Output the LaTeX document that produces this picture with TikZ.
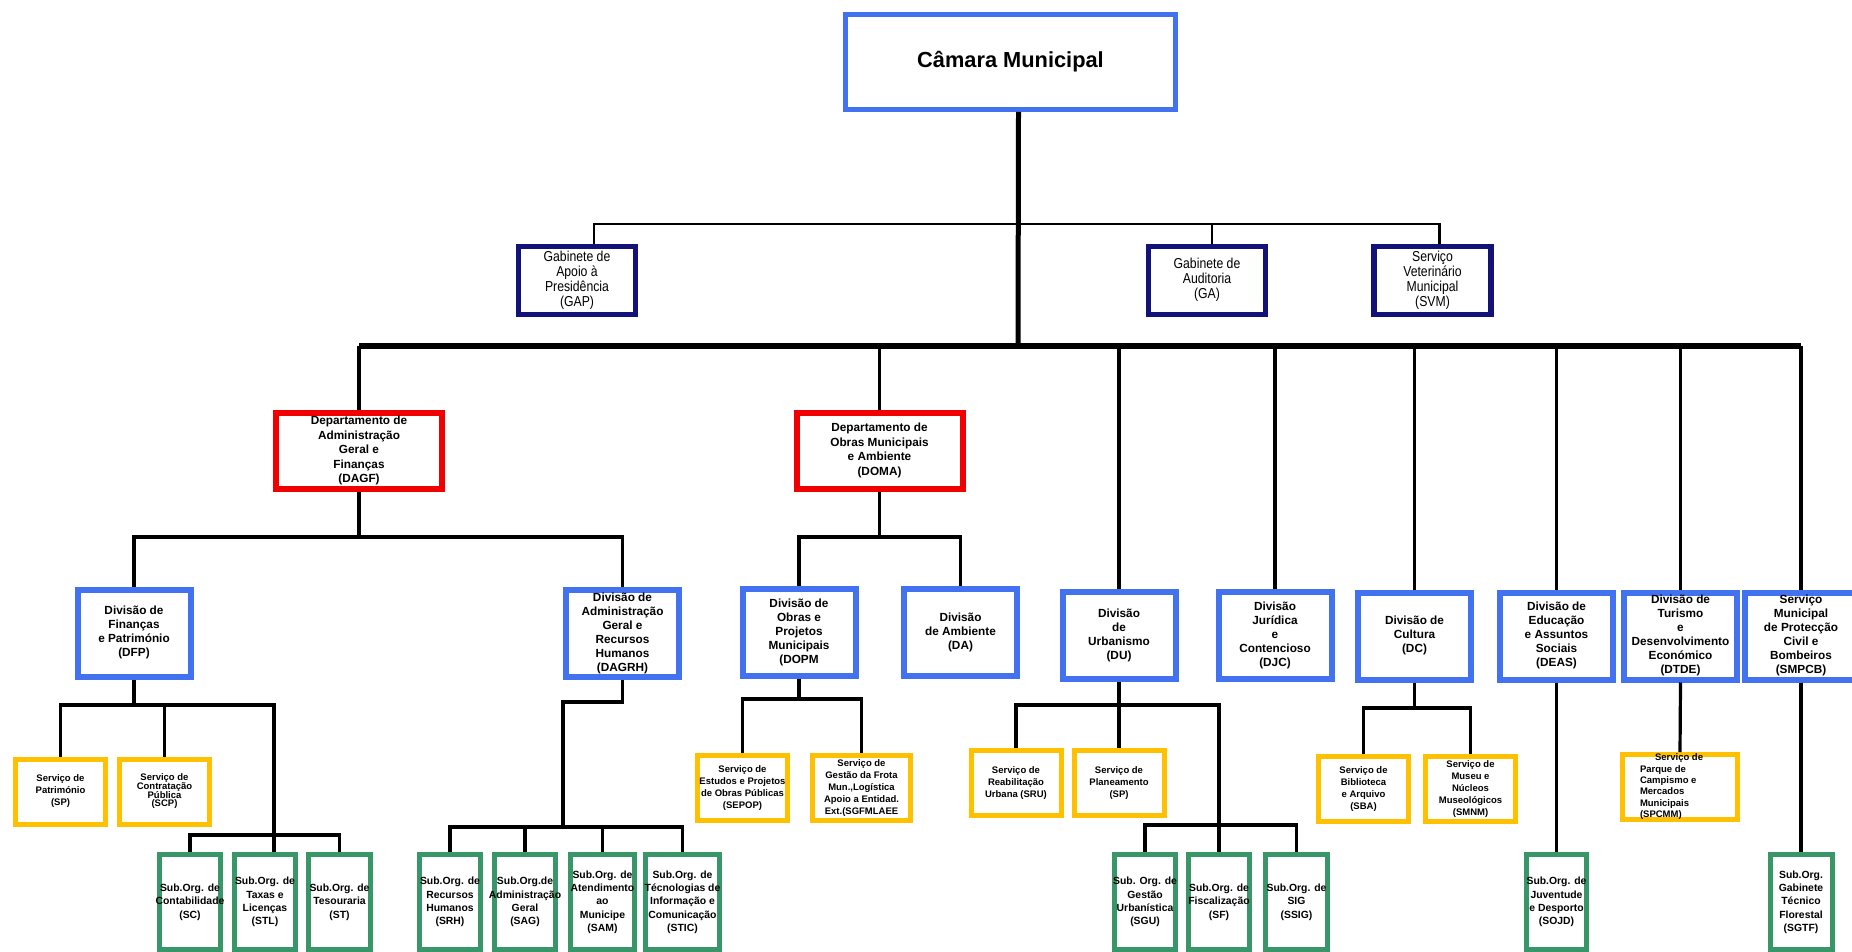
\documentclass[tikz,border=0pt]{standalone}
\usepackage{fontspec}
\setmainfont{Liberation Sans}
\newfontfamily\narrowsans[FakeStretch=0.85]{Liberation Sans}
\newcommand{\boxlines}[1]{\makebox[0pt]{\smash{\raisebox{-0.25em}{\begin{tabular}{@{}c@{}}#1\end{tabular}}}}}
\definecolor{cmblue}{RGB}{66,114,240}
\definecolor{navybx}{RGB}{18,18,120}
\definecolor{redbx}{RGB}{240,0,0}
\definecolor{yelbx}{RGB}{255,192,0}
\definecolor{grnbx}{RGB}{56,150,104}
\begin{document}
\begin{tikzpicture}[x=0.5pt,y=-0.5pt,
  cmbox/.style={draw=cmblue,line width=2.5pt,inner sep=0pt,minimum width=165pt,minimum height=47.5pt,font=\bfseries\fontsize{10.9}{13}\selectfont},
  navbox/.style={draw=navybx,line width=2.75pt,inner sep=0pt,minimum width=58.5pt,minimum height=34pt,font=\narrowsans\fontsize{7.2}{7.5}\selectfont},
  redbox/.style={draw=redbx,line width=3pt,inner sep=0pt,minimum width=83pt,minimum height=38pt,font=\bfseries\fontsize{5.9}{7.25}\selectfont},
  bluebox/.style={draw=cmblue,line width=3pt,inner sep=0pt,minimum width=56.5pt,minimum height=43.5pt,font=\bfseries\fontsize{5.9}{7}\selectfont},
  yelbox/.style={draw=yelbx,line width=2.5pt,inner sep=0pt,minimum width=45pt,minimum height=32.5pt,font=\bfseries\fontsize{4.75}{6}\selectfont},
  grnbox/.style={draw=grnbx,line width=2.5pt,inner sep=0pt,minimum width=30.5pt,minimum height=47.5pt,font=\bfseries\fontsize{5.2}{6.65}\selectfont},
  link/.style={line width=1.6pt},
  uplink/.style={line width=1.3pt},
  mainbar/.style={line width=2.75pt},
  trunk/.style={line width=2.5pt}]
\useasboundingbox (0,0) rectangle (1852,952);
\clip (0,0) rectangle (1852,952);
\fill[white] (0,0) rectangle (1852,952);

\node[cmbox] (cm) at (1010.5,62) {Câmara Municipal};

\node[navbox] (gap) at (577,280.5) {\boxlines{Gabinete de\\Apoio à\\Presidência\\(GAP)}};
\node[navbox] (ga) at (1207,280.5) {\boxlines{Gabinete de\\Auditoria\\(GA)}};
\node[navbox] (svm) at (1432.5,280.5) {\boxlines{Serviço\\Veterinário\\Municipal\\(SVM)}};

\node[redbox] (dagf) at (359,451) {\boxlines{Departamento de\\Administração\\Geral e\\Finanças\\(DAGF)}};
\node[redbox] (doma) at (879.5,450.5) {\boxlines{Departamento de\\Obras Municipais\\e Ambiente\\(DOMA)}};

\node[bluebox] (dfp) at (134,633) {\boxlines{Divisão de\\Finanças\\e Património\\(DFP)}};
\node[bluebox] (dagrh) at (622.5,633.5) {\boxlines{Divisão de\\Administração\\Geral e\\Recursos\\Humanos\\(DAGRH)}};
\node[bluebox] (dopm) at (799,632.5) {\boxlines{Divisão de\\Obras e\\Projetos\\Municipais\\(DOPM}};
\node[bluebox] (da) at (960.5,632.5) {\boxlines{Divisão\\de Ambiente\\(DA)}};
\node[bluebox] (du) at (1119,635.5) {\boxlines{Divisão\\de\\Urbanismo\\(DU)}};
\node[bluebox] (djc) at (1275,635.5) {\boxlines{Divisão\\Jurídica\\e\\Contencioso\\(DJC)}};
\node[bluebox] (dc) at (1414.5,636) {\boxlines{Divisão de\\Cultura\\(DC)}};
\node[bluebox] (deas) at (1556.5,636) {\boxlines{Divisão de\\Educação\\e Assuntos\\Sociais\\(DEAS)}};
\node[bluebox] (dtde) at (1680.5,636) {\boxlines{Divisão de\\Turismo\\e\\Desenvolvimento\\Económico\\(DTDE)}};
\node[bluebox] (smpcb) at (1801,636) {\boxlines{Serviço\\Municipal\\de Protecção\\Civil e\\Bombeiros\\(SMPCB)}};

\node[yelbox] (sp) at (60.5,791.5) {\boxlines{Serviço de\\Património\\(SP)}};
\node[yelbox] (scp) at (164.5,791.5) {\boxlines{Serviço de\\[-1.6pt]Contratação\\[-1.6pt]Pública\\[-1.6pt](SCP)}};
\node[yelbox] (sepop) at (742.5,788) {\boxlines{Serviço de\\Estudos e Projetos\\de Obras Públicas\\(SEPOP)}};
\node[yelbox,minimum width=49pt] (sgf) at (861.5,788) {\boxlines{Serviço de\\Gestão da Frota\\Mun.,Logística\\Apoio a Entidad.\\Ext.(SGFMLAEE}};
\node[yelbox] (sru) at (1016,783) {\boxlines{Serviço de\\Reabilitação\\Urbana (SRU)}};
\node[yelbox] (spl) at (1119,783) {\boxlines{Serviço de\\Planeamento\\(SP)}};
\node[yelbox] (sba) at (1363.5,789) {\boxlines{Serviço de\\Biblioteca\\e Arquivo\\(SBA)}};
\node[yelbox] (smnm) at (1470.5,789) {\boxlines{Serviço de\\Museu e\\Núcleos\\Museológicos\\(SMNM)}};
\node[yelbox,minimum width=57.5pt] (spcmm) at (1680,787) {\makebox[0pt][l]{\hspace*{-20pt}\smash{\raisebox{-0.25em}{\begin{tabular}{@{}l@{}}\hspace*{7.5pt}Serviço de\\[-0.3pt]Parque de\\[-0.3pt]Campismo e\\[-0.3pt]Mercados\\[-0.3pt]Municipais\\[-0.3pt](SPCMM)\end{tabular}}}}};

\node[grnbox] (sc) at (190,902) {\boxlines{Sub.Org. de\\Contabilidade\\(SC)}};
\node[grnbox] (stl) at (265,902) {\boxlines{Sub.Org. de\\Taxas e\\Licenças\\(STL)}};
\node[grnbox,minimum width=31pt] (st) at (339.5,902) {\boxlines{Sub.Org. de\\Tesouraria\\(ST)}};
\node[grnbox] (srh) at (450,902) {\boxlines{Sub.Org. de\\Recursos\\Humanos\\(SRH)}};
\node[grnbox] (sag) at (525,902) {\boxlines{Sub.Org.de\\Administração\\Geral\\(SAG)}};
\node[grnbox,minimum width=32pt] (sam) at (602.5,902) {\boxlines{Sub.Org. de\\Atendimento\\ao\\Municipe\\(SAM)}};
\node[grnbox,minimum width=37pt] (stic) at (682.5,902) {\boxlines{Sub.Org. de\\Técnologias de\\Informação e\\Comunicação\\(STIC)}};
\node[grnbox] (sgu) at (1145,902) {\boxlines{Sub. Org. de\\Gestão\\Urbanística\\(SGU)}};
\node[grnbox] (sf) at (1219,902) {\boxlines{Sub.Org. de\\Fiscalização\\(SF)}};
\node[grnbox,minimum width=31pt] (ssig) at (1296.5,902) {\boxlines{Sub.Org. de\\SIG\\(SSIG)}};
\node[grnbox,minimum width=30pt] (sojd) at (1556.5,902) {\boxlines{Sub.Org. de\\Juventude\\e Desporto\\(SOJD)}};
\node[grnbox,minimum width=31pt] (sgtf) at (1801,902) {\boxlines{Sub.Org.\\Gabinete\\Técnico\\Florestal\\(SGTF)}};

\coordinate (ub) at (1018,224);
\coordinate (mb) at (1018,346);
\draw[trunk] ([xshift=4pt]cm.south) -- (mb);
\draw[uplink] ([xshift=8.5pt]gap.north) |- (ub) -| ([xshift=3.5pt]svm.north);
\draw[uplink] ([xshift=2.5pt]ga.north) -- ([xshift=2.5pt]ga.north |- ub);

\draw[mainbar] (dagf.north |- mb) -- (smpcb.north |- mb);
\draw[link] (dagf.north |- mb) -- (dagf.north);
\draw[link] (doma.north |- mb) -- (doma.north);
\draw[link] (du.north |- mb) -- (du.north);
\draw[link] (djc.north |- mb) -- (djc.north);
\draw[link] (dc.north |- mb) -- (dc.north);
\draw[link] (deas.north |- mb) -- (deas.north);
\draw[link] (dtde.north |- mb) -- (dtde.north);
\draw[link] (smpcb.north |- mb) -- (smpcb.north);

\coordinate (lv1) at (0,537);
\draw[link] (dagf.south) -- (dagf.south |- lv1);
\draw[link] (dfp.north) |- (lv1 -| dagrh.north) -- (dagrh.north);
\draw[link] (doma.south) -- (doma.south |- lv1);
\draw[link] (dopm.north) |- (lv1 -| da.north) -- (da.north);

\coordinate (f1) at (274,705);
\coordinate (f2) at (274,835);
\draw[link] (dfp.south) -- (dfp.south |- f1);
\draw[link] (sp.north) |- (f1) -- (f2);
\draw[link] (scp.north) -- (scp.north |- f1);
\draw[link] (sc.north) |- (f2) -| (st.north);
\draw[link] (f2) -- (f2 |- stl.north);

\coordinate (h1) at (563,702);
\coordinate (h2) at (563,827);
\draw[link] (dagrh.south) |- (h1) -- (h2);
\draw[link] (srh.north) |- (h2) -| (stic.north);
\draw[link] (sag.north) -- (sag.north |- h2);
\draw[link] (sam.north) -- (sam.north |- h2);

\coordinate (o1) at (0,699);
\draw[link] (dopm.south) -- (dopm.south |- o1);
\draw[link] (sepop.north) |- (o1 -| sgf.north) -- (sgf.north);

\coordinate (u1) at (1219,705);
\coordinate (u2) at (1219,825);
\draw[link] (du.south) -- (spl.north);
\draw[link] (sru.north) |- (u1) -- (u2);
\draw[link] (sgu.north) |- (u2) -| (ssig.north);
\draw[link] (u2) -- (sf.north);

\coordinate (c1) at (0,708);
\draw[link] (dc.south) -- (dc.south |- c1);
\draw[link] (sba.north) |- (c1 -| smnm.north) -- (smnm.north);

\draw[link] (deas.south) -- (sojd.north);
\draw[link] (dtde.south) -- (spcmm.north);
\draw[link] (smpcb.south) -- (sgtf.north);
\end{tikzpicture}
\end{document}
